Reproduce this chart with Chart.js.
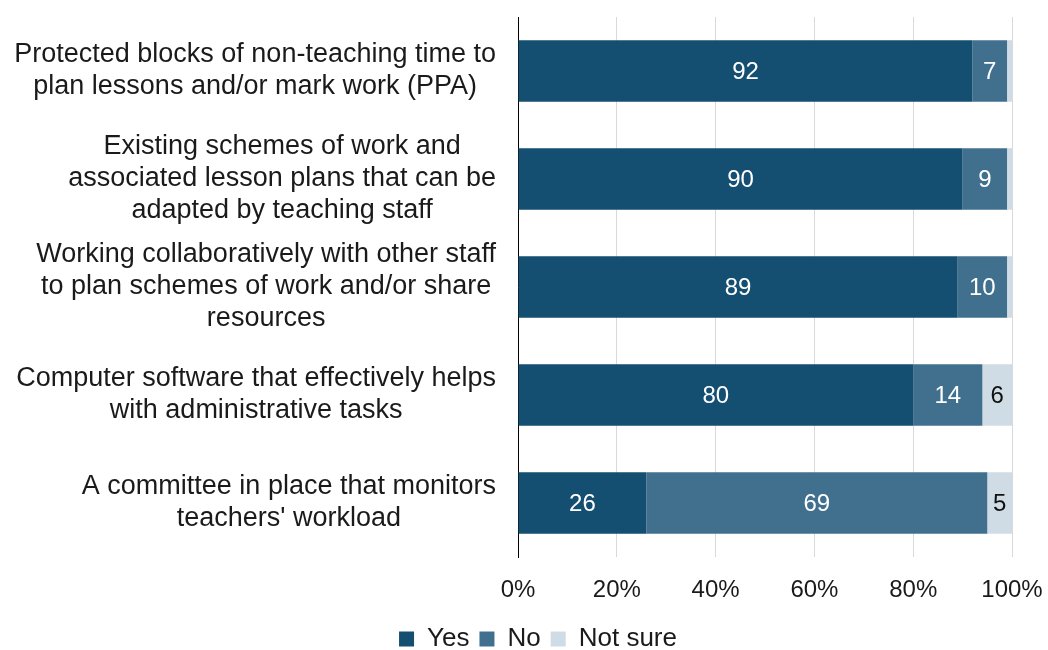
<!DOCTYPE html>
<html>
<head>
<meta charset="utf-8">
<script src="https://cdn.jsdelivr.net/npm/chart.js@4"></script>
<style>
  body { margin: 0; background: #fff; }
  #wrap { width: 1048px; height: 650px; }
</style>
</head>
<body>
<div id="wrap"><canvas id="chart"></canvas></div>
<script>
// categories (multi-line labels)
const categories = [
  ["Protected blocks of non-teaching time to", "plan lessons and/or mark work (PPA)"],
  ["Existing schemes of work and", "associated lesson plans that can be", "adapted by teaching staff"],
  ["Working collaboratively with other staff", "to plan schemes of work and/or share", "resources"],
  ["Computer software that effectively helps", "with administrative tasks"],
  ["A committee in place that monitors", "teachers' workload"]
];
const yesValues = [92, 90, 89, 80, 26];
const noValues = [7, 9, 10, 14, 69];
const notSureValues = [1, 1, 1, 6, 5];
const xTicks = [0, 20, 40, 60, 80, 100];

const FONT = "'Liberation Sans', Arial, sans-serif";

// labels de catégorie : chaque bloc centré sur lui-même, aligné à droite
const catLabels = {
  id: "catLabels",
  afterDraw(chart) {
    const ctx = chart.ctx;
    const y = chart.scales.y;
    const right = y.right - 22;
    const lh = 32;
    ctx.save();
    ctx.font = "27px " + FONT;
    ctx.fillStyle = "#1a1a1a";
    ctx.textAlign = "center";
    ctx.textBaseline = "middle";
    categories.forEach((lines, i) => {
      const w = Math.max(...lines.map(l => ctx.measureText(l).width));
      const cx = right - w / 2;
      const cy = y.getPixelForTick(i);
      lines.forEach((l, j) => {
        ctx.fillText(l, cx, cy + (j - (lines.length - 1) / 2) * lh);
      });
    });
    ctx.restore();
  }
};

// valeurs dans les barres
const barValues = {
  id: "barValues",
  afterDatasetsDraw(chart) {
    const ctx = chart.ctx;
    ctx.save();
    ctx.font = "24px " + FONT;
    ctx.textAlign = "center";
    ctx.textBaseline = "middle";
    chart.data.datasets.forEach((ds, di) => {
      const meta = chart.getDatasetMeta(di);
      meta.data.forEach((bar, i) => {
        const v = ds.data[i];
        if (v < 5) return;
        ctx.fillStyle = di === 2 ? "#111" : "#fff";
        ctx.fillText(String(v), (bar.x + bar.base) / 2, bar.y + 1);
      });
    });
    ctx.restore();
  }
};

// légende un peu décalée vers la droite comme dans l'original
const shiftLegend = {
  id: "shiftLegend",
  afterLayout(chart) {
    chart.legend.left += 26;
    chart.legend.right += 26;
  }
};

new Chart(document.getElementById("chart"), {
  type: "bar",
  data: {
    labels: categories,
    datasets: [
      { label: "Yes", data: yesValues, backgroundColor: "#144E71" },
      { label: "No", data: noValues, backgroundColor: "#41708F" },
      { label: "Not sure", data: notSureValues, backgroundColor: "#D0DCE5" }
    ]
  },
  options: {
    indexAxis: "y",
    responsive: true,
    maintainAspectRatio: false,
    animation: false,
    layout: { padding: { left: 12, right: 36, top: 17, bottom: -12 } },
    datasets: { bar: { categoryPercentage: 1, barPercentage: 0.57 } },
    scales: {
      x: {
        stacked: true,
        min: 0,
        max: 100,
        afterBuildTicks: (s) => { s.ticks = xTicks.map(v => ({ value: v })); },
        afterFit: (s) => { s.paddingLeft = 0; s.paddingRight = 0; s.height = 59; },
        ticks: {
          callback: (v) => v + "%",
          color: "#1a1a1a",
          font: { family: FONT, size: 24, lineHeight: 1 },
          padding: 21,
          maxRotation: 0
        },
        grid: { color: "#d9d9d9", lineWidth: 1, drawTicks: false },
        border: { display: false }
      },
      y: {
        stacked: true,
        afterFit: (s) => { s.width = 506; },
        ticks: { display: false },
        grid: { display: false, drawTicks: false },
        border: { display: true, color: "#000", width: 1 }
      }
    },
    plugins: {
      legend: {
        position: "bottom",
        labels: {
          color: "#1a1a1a",
          font: { family: FONT, size: 26, lineHeight: 1 },
          boxWidth: 15,
          boxHeight: 15,
          padding: 10
        }
      },
      tooltip: { enabled: false }
    }
  },
  plugins: [catLabels, barValues, shiftLegend]
});
</script>
</body>
</html>
